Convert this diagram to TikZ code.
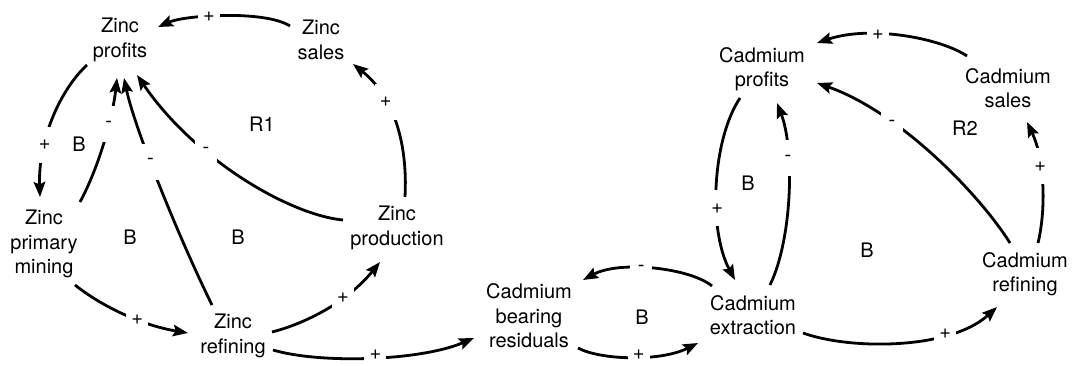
\documentclass[tikz,border=0pt]{standalone}
\usepackage{fontspec}
\setmainfont{TeX Gyre Heros}
\usetikzlibrary{arrows.meta}
\begin{document}
\begin{tikzpicture}[x=1pt,y=-1pt,
  var/.style={align=center,font=\fontsize{20}{24.5}\selectfont,inner sep=0pt},
  loopname/.style={font=\fontsize{20}{24}\selectfont,inner sep=0pt},
  link/.style={line width=2.8pt,-{Stealth[length=15pt,width=11.5pt,inset=2.5pt]}},
  sign/.style={fill=white,font=\fontsize{20}{22}\selectfont,minimum width=22pt,minimum height=36pt,inner sep=0pt},
  lowsign/.style={sign,minimum height=12pt,yshift=2.5pt}
]
\useasboundingbox (0,0) rectangle (1073,366);

% variables
\node[var] (zp)  at (120,40)  {Zinc\\profits};
\node[var] (zs)  at (321,40)  {Zinc\\sales};
\node[var] (zm)  at (44,244)  {Zinc\\primary\\mining};
\node[var] (zpr) at (397,228) {Zinc\\production};
\node[var] (zr)  at (233,336) {Zinc\\refining};
\node[var] (cbr) at (529,316) {Cadmium\\bearing\\residuals};
\node[var] (ce)  at (753,315) {Cadmium\\extraction};
\node[var] (cr)  at (1025,274) {Cadmium\\refining};
\node[var] (cp)  at (762,69)  {Cadmium\\profits};
\node[var] (cs)  at (1008,88) {Cadmium\\sales};

% loop names
\node[loopname] (r1) at (262,124) {R1};
\node[loopname] (r2) at (965,128) {R2};
\node[loopname] (b1) at (79,144)  {B};
\node[loopname] (b2) at (130,237) {B};
\node[loopname] (b3) at (238,237) {B};
\node[loopname] (b4) at (642,317) {B};
\node[loopname] (b5) at (748,183) {B};
\node[loopname] (b6) at (867,250) {B};

% zinc links
\draw[link] ([shift={(-31,-14)}]zs.center) .. controls +(-25,-16) and +(27,-12) .. ([shift={(38,-13)}]zp.center) node[sign,pos=0.6]{+};
\draw[link] ([shift={(-33,25)}]zp.center) .. controls +(-27,25) and +(-2,-57) .. ([shift={(-4,-47)}]zm.center) node[sign,pos=0.68]{+};
\draw[link] ([shift={(36,-42)}]zm.center) .. controls +(20,-37) and +(-4,37) .. ([shift={(-3,38)}]zp.center) node[sign,pos=0.62]{-};
\draw[link] ([shift={(-21,-31)}]zr.center) .. controls +(-32,-65) and +(11,52) .. ([shift={(4,38)}]zp.center) node[sign,pos=0.6]{-};
\draw[link] ([shift={(-54,-8)}]zpr.center) .. controls +(-53,-5) and +(58,85) .. ([shift={(17,35)}]zp.center) node[sign,pos=0.66]{-};
\draw[link] ([shift={(8,-31)}]zpr.center) .. controls +(3,-57) and +(39,31) .. ([shift={(32,24)}]zs.center) node[sign,pos=0.65]{+};
\draw[link] ([shift={(31,41)}]zm.center) .. controls +(25,20) and +(-48,-8) .. ([shift={(-45,-3)}]zr.center) node[sign,pos=0.62]{+};
\draw[link] ([shift={(39,-4)}]zr.center) .. controls +(28,-7) and +(-35,43) .. ([shift={(-17,34)}]zpr.center) node[sign,pos=0.67]{+};
\draw[link] ([shift={(40,14)}]zr.center) .. controls +(47,14) and +(-54,23) .. ([shift={(-55,22)}]cbr.center) node[lowsign,pos=0.52]{+};

% cadmium links
\draw[link] ([shift={(49,32)}]cbr.center) .. controls +(22,12) and +(-38,19) .. ([shift={(-55,28)}]ce.center) node[lowsign,pos=0.55]{+};
\draw[link] ([shift={(-41,-29)}]ce.center) .. controls +(-22,-18) and +(37,-20) .. ([shift={(54,-36)}]cbr.center) node[sign,pos=0.58]{-};
\draw[link] ([shift={(-22,29)}]cp.center) .. controls +(-28,42) and +(-27,-50) .. ([shift={(-18,-35)}]ce.center) node[sign,pos=0.61]{+};
\draw[link] ([shift={(17,-30)}]ce.center) .. controls +(22,-45) and +(18,47) .. ([shift={(15,34)}]cp.center) node[sign,pos=0.68]{-};
\draw[link] ([shift={(-15,-31)}]cr.center) .. controls +(-30,-48) and +(83,29) .. ([shift={(55,14)}]cp.center) node[sign,pos=0.69]{-};
\draw[link] ([shift={(13,-31)}]cr.center) .. controls +(8,-33) and +(18,38) .. ([shift={(19,34)}]cs.center) node[sign,pos=0.64]{+};
\draw[link] ([shift={(-41,-32)}]cs.center) .. controls +(-27,-18) and +(53,-18) .. ([shift={(55,-26)}]cp.center) node[sign,pos=0.64]{+};
\draw[link] ([shift={(50,18)}]ce.center) .. controls +(47,17) and +(-47,43) .. ([shift={(-28,33)}]cr.center) node[sign,pos=0.71]{+};
\end{tikzpicture}
\end{document}
